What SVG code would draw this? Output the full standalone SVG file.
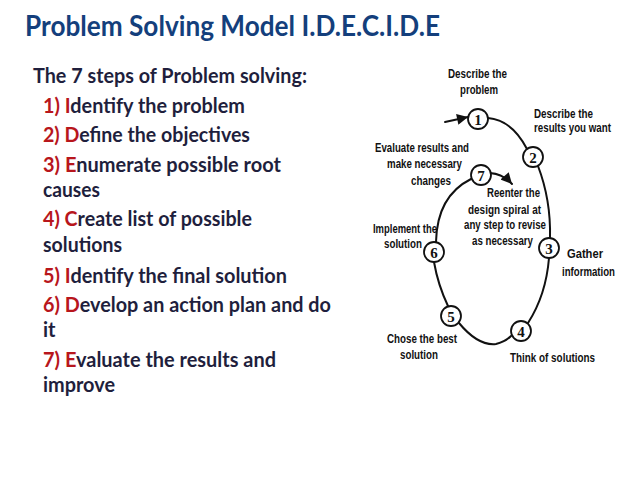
<svg xmlns="http://www.w3.org/2000/svg" width="638" height="479" viewBox="0 0 638 479">
<style>
.title{font-family:Lato,"Liberation Sans",sans-serif;font-weight:bold;font-size:28px;fill:#143f7c}
.body{font-family:Lato,"Liberation Sans",sans-serif;font-weight:bold;font-size:20px;fill:#1f1f3d}
.red{fill:#b8161c}
.lbl{font-family:"Liberation Sans",Arial,sans-serif;font-weight:bold;font-size:13.5px;fill:#111}
.num{font-family:"Liberation Serif","Times New Roman",serif;font-weight:bold;font-size:15px;fill:#111;text-anchor:middle}
.ring{fill:none;stroke:#111;stroke-width:2;stroke-linecap:round}
.node circle{fill:#fff;stroke:#111;stroke-width:1.8}
</style>
<defs>
<marker id="ah" viewBox="0 0 10 10" refX="10" refY="5" markerUnits="userSpaceOnUse" markerWidth="12" markerHeight="11" orient="auto">
<path d="M0,0 L10,5 L0,10 z" fill="#111"/>
</marker>
</defs>
<rect width="638" height="479" fill="#fff"/>
<text class="title" x="25" y="36" textLength="415" lengthAdjust="spacingAndGlyphs">Problem Solving Model I.D.E.C.I.D.E</text>
<g id="steps">
<text class="body" x="33" y="83" textLength="274" lengthAdjust="spacingAndGlyphs">The 7 steps of Problem solving:</text>
<text class="body" x="43" y="113" textLength="202" lengthAdjust="spacingAndGlyphs"><tspan class="red">1) I</tspan>dentify the problem</text>
<text class="body" x="43" y="142" textLength="207" lengthAdjust="spacingAndGlyphs"><tspan class="red">2) D</tspan>efine the objectives</text>
<text class="body" x="43" y="172" textLength="238" lengthAdjust="spacingAndGlyphs"><tspan class="red">3) E</tspan>numerate possible root</text>
<text class="body" x="43" y="197" textLength="57" lengthAdjust="spacingAndGlyphs">causes</text>
<text class="body" x="43" y="226" textLength="209" lengthAdjust="spacingAndGlyphs"><tspan class="red">4) C</tspan>reate list of possible</text>
<text class="body" x="43" y="252" textLength="79" lengthAdjust="spacingAndGlyphs">solutions</text>
<text class="body" x="43" y="283" textLength="244" lengthAdjust="spacingAndGlyphs"><tspan class="red">5) I</tspan>dentify the final solution</text>
<text class="body" x="43" y="312" textLength="288" lengthAdjust="spacingAndGlyphs"><tspan class="red">6) D</tspan>evelop an action plan and do</text>
<text class="body" x="43" y="337">it</text>
<text class="body" x="43" y="367" textLength="233" lengthAdjust="spacingAndGlyphs"><tspan class="red">7) E</tspan>valuate the results and</text>
<text class="body" x="43" y="392" textLength="72" lengthAdjust="spacingAndGlyphs">improve</text>
</g>
<g id="connectors">
<path class="ring" d="M488,118 Q512,120 527,149"/>
<path class="ring" d="M538,166 Q551,200 550,238"/>
<path class="ring" d="M549,258 Q546,295 528,323"/>
<path class="ring" d="M459,323 Q478,346 496,344 Q505,342 511,336"/>
<path class="ring" d="M448,306 Q438,285 434,262"/>
<path class="ring" d="M436,242 Q437,196 471,179"/>
<path class="ring" d="M445,122 L468,117" marker-end="url(#ah)"/>
<path class="ring" d="M490,173 Q503,174 512,184" marker-end="url(#ah)"/>
</g>
<g id="n1" class="node"><circle cx="478" cy="119" r="10"/><text class="num" x="478" y="124.5">1</text></g>
<g id="n2" class="node"><circle cx="533" cy="157" r="10"/><text class="num" x="533" y="162.5">2</text></g>
<g id="n3" class="node"><circle cx="549" cy="248" r="10"/><text class="num" x="549" y="253.5">3</text></g>
<g id="n4" class="node"><circle cx="521" cy="331" r="10"/><text class="num" x="521" y="336.5">4</text></g>
<g id="n5" class="node"><circle cx="451" cy="316" r="10"/><text class="num" x="451" y="321.5">5</text></g>
<g id="n6" class="node"><circle cx="434" cy="252" r="10"/><text class="num" x="434" y="257.5">6</text></g>
<g id="n7" class="node"><circle cx="481" cy="175" r="10"/><text class="num" x="481" y="180.5">7</text></g>
<g id="labels">
<text class="lbl" x="448" y="78" textLength="59" lengthAdjust="spacingAndGlyphs">Describe the</text>
<text class="lbl" x="460" y="94" textLength="38" lengthAdjust="spacingAndGlyphs">problem</text>
<text class="lbl" x="534" y="118" textLength="59" lengthAdjust="spacingAndGlyphs">Describe the</text>
<text class="lbl" x="534" y="132" textLength="77" lengthAdjust="spacingAndGlyphs">results you want</text>
<text class="lbl" x="375" y="152" textLength="94" lengthAdjust="spacingAndGlyphs">Evaluate results and</text>
<text class="lbl" x="387" y="168" textLength="75" lengthAdjust="spacingAndGlyphs">make necessary</text>
<text class="lbl" x="411" y="185" textLength="40" lengthAdjust="spacingAndGlyphs">changes</text>
<text class="lbl" x="487" y="197" textLength="53" lengthAdjust="spacingAndGlyphs">Reenter the</text>
<text class="lbl" x="468" y="214" textLength="73" lengthAdjust="spacingAndGlyphs">design spiral at</text>
<text class="lbl" x="464" y="229" textLength="82" lengthAdjust="spacingAndGlyphs">any step to revise</text>
<text class="lbl" x="472" y="245" textLength="61" lengthAdjust="spacingAndGlyphs">as necessary</text>
<text class="lbl" x="373" y="233" textLength="64" lengthAdjust="spacingAndGlyphs">Implement the</text>
<text class="lbl" x="384" y="248" textLength="38" lengthAdjust="spacingAndGlyphs">solution</text>
<text class="lbl" x="567" y="258" textLength="36" lengthAdjust="spacingAndGlyphs">Gather</text>
<text class="lbl" x="562" y="276" textLength="53" lengthAdjust="spacingAndGlyphs">information</text>
<text class="lbl" x="387" y="343" textLength="70" lengthAdjust="spacingAndGlyphs">Chose the best</text>
<text class="lbl" x="400" y="359" textLength="38" lengthAdjust="spacingAndGlyphs">solution</text>
<text class="lbl" x="510" y="362" textLength="85" lengthAdjust="spacingAndGlyphs">Think of solutions</text>
</g>
</svg>
